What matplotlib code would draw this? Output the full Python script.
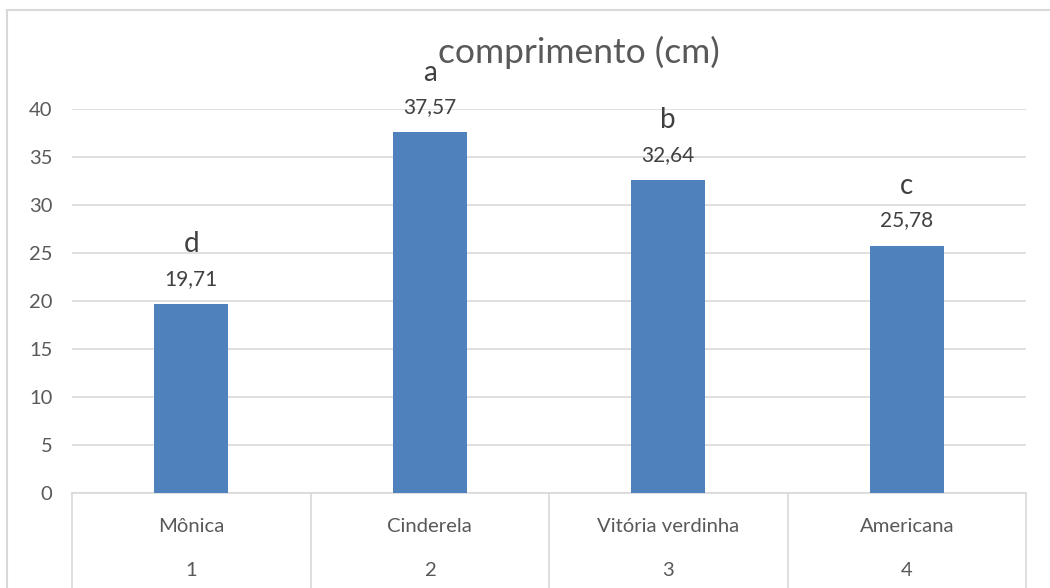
import matplotlib.pyplot as plt
from matplotlib.lines import Line2D
from matplotlib.patches import Rectangle

plt.rcParams['font.family'] = ['Lato', 'DejaVu Sans']

cultivares = ['Mônica', 'Cinderela', 'Vitória verdinha', 'Americana']
numeros = ['1', '2', '3', '4']
comprimento = [19.71, 37.57, 32.64, 25.78]
letras = ['d', 'a', 'b', 'c']
yticks = [0, 5, 10, 15, 20, 25, 30, 35, 40]

cinza = '#595959'
grade = '#d9d9d9'
W, H = 1050, 588

fig = plt.figure(figsize=(10.5, 5.88), dpi=100)
ax = fig.add_axes([72 / W, (H - 493) / H, (1026 - 72) / W, (493 - 109) / H])

x = list(range(len(cultivares)))
ax.bar(x, comprimento, width=0.31, color='#4f81bd', zorder=3)
ax.set_xlim(-0.5, len(cultivares) - 0.5)
ax.set_ylim(0, 40)
ax.set_yticks(yticks)
ax.set_yticklabels([str(t) for t in yticks], fontsize=14.5, color=cinza)
ax.tick_params(axis='y', length=0, pad=14)
ax.set_xticks([])
ax.grid(axis='y', color=grade, linewidth=1.2, zorder=0)
for s in ['top', 'right', 'left']:
    ax.spines[s].set_visible(False)
ax.spines['bottom'].set_color(grade)
ax.spines['bottom'].set_linewidth(1.2)

# rótulos de valor e letras
for xi, v, l in zip(x, comprimento, letras):
    ax.annotate(f'{v:.2f}'.replace('.', ','), (xi, v), xytext=(0, 18),
                textcoords='offset points', ha='center', va='center',
                fontsize=15, color='#404040')
    ax.annotate(l, (xi, v), xytext=(0, 43), textcoords='offset points',
                ha='center', va='center', fontsize=20, color='#404040')

# eixo de categorias em dois níveis (estilo Excel)
trans = ax.get_xaxis_transform()
fundo = -(H - 493 + 2) / (493 - 109)
for b in [i - 0.5 for i in range(len(cultivares) + 1)]:
    ax.add_line(Line2D([b, b], [0, fundo], transform=trans, color=grade,
                       linewidth=1.2, clip_on=False))
for xi, nome, n in zip(x, cultivares, numeros):
    ax.text(xi, -34 / 384, nome, transform=trans, ha='center', va='center',
            fontsize=14.6, color=cinza)
    ax.text(xi, -78 / 384, n, transform=trans, ha='center', va='center',
            fontsize=14.6, color=cinza)

fig.text(579 / W, 1 - 52 / H, 'comprimento (cm)', ha='center', va='center',
         fontsize=25.5, color=cinza)

fig.patches.append(Rectangle((7 / W, -0.1), 1.2, 1 - 10 / H + 0.1,
                             transform=fig.transFigure, fill=False,
                             edgecolor=grade, linewidth=1.5))

fig.savefig('out.png', dpi=100)
